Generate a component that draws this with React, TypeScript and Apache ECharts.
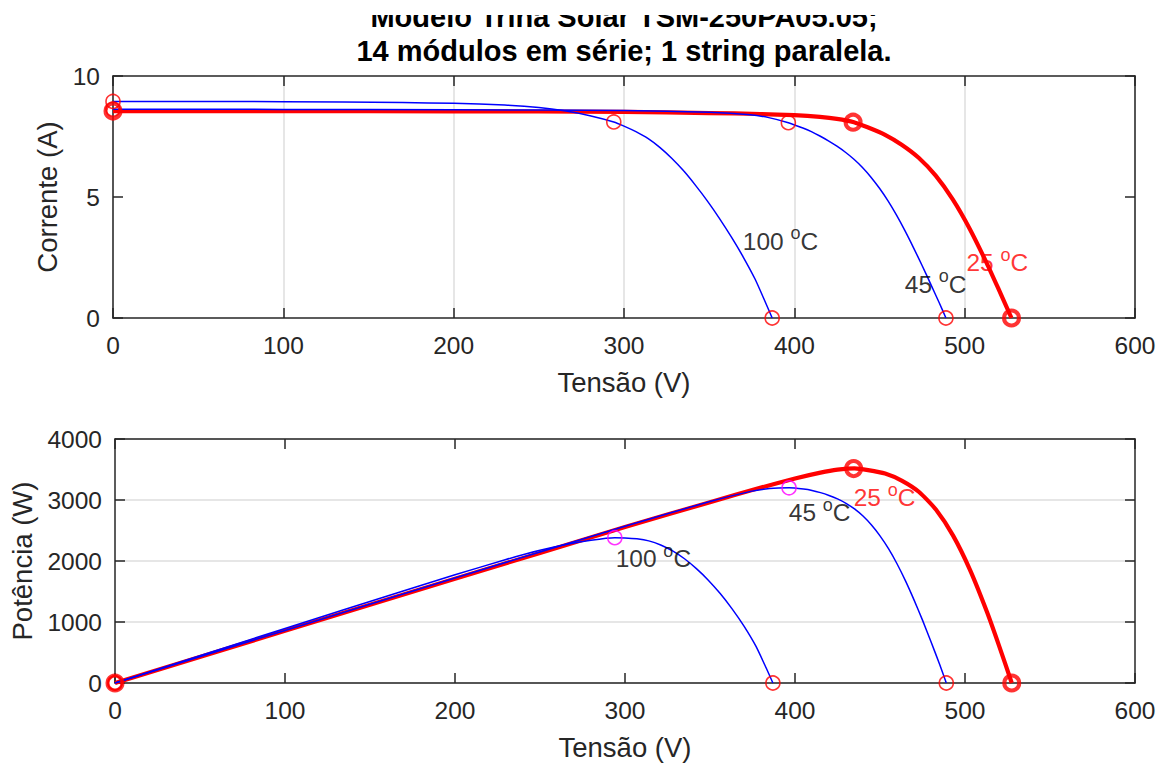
import { useEffect, useRef } from 'react';
import * as echarts from 'echarts';

const titleLines = ['Modelo Trina Solar TSM-250PA05.05;', '14 módulos em série; 1 string paralela.'];
const xLabel = 'Tensão (V)';
const yLabelTop = 'Corrente (A)';
const yLabelBottom = 'Potência (W)';

// 25 oC (red, thick)
const v25 = [0, 100, 200, 300, 350, 380, 400, 415, 425, 435, 443, 453, 463, 473, 483, 493, 503, 513, 520, 527.5];
const i25 = [8.55, 8.55, 8.54, 8.52, 8.47, 8.43, 8.38, 8.31, 8.23, 8.09, 7.88, 7.58, 7.16, 6.62, 5.88, 4.9, 3.68, 2.26, 1.18, 0];
// 45 oC (blue)
const v45 = [0, 100, 200, 300, 350, 374, 385, 396.5, 405, 410, 415, 420, 425, 430, 435, 440, 445, 450, 455, 460, 465, 470, 475, 480, 485, 489];
const i45 = [8.63, 8.62, 8.61, 8.57, 8.5, 8.4, 8.28, 8.07, 7.85, 7.7, 7.52, 7.32, 7.1, 6.85, 6.56, 6.22, 5.82, 5.36, 4.84, 4.25, 3.6, 2.9, 2.17, 1.41, 0.64, 0];
// 100 oC (blue)
const v100 = [0, 100, 170, 200, 230, 250, 266, 280, 294, 300, 307, 314, 321, 328, 335, 342, 349, 356, 363, 370, 377, 383, 387];
const i100 = [8.95, 8.94, 8.9, 8.87, 8.8, 8.7, 8.55, 8.36, 8.1, 7.93, 7.7, 7.42, 7.05, 6.6, 6.08, 5.48, 4.83, 4.12, 3.35, 2.52, 1.6, 0.65, 0];

// special points: [100 oC, 45 oC, 25 oC]
const iscI = [8.95, 8.63, 8.55];
const mppV = [294, 396.5, 434.5];
const mppI = [8.1, 8.07, 8.09];
const vocV = [387, 489, 527.5];

const tempNames = ['100', '45', '25'];
const labelAnchorTop = [[369.7, 3.18], [464.8, 1.4], [501.0, 2.29]];
const labelAnchorBottom = [[294.5, 2033], [396.3, 2787], [434.5, 3033]];

const xTicks = { min: 0, max: 600, interval: 100 };
const yTicksTop = { min: 0, max: 10, interval: 5 };
const yTicksBottom = { min: 0, max: 4000, interval: 1000 };

const FONT = "'Liberation Sans', Arial, Helvetica, sans-serif";
const AX = '#262626';

function pairs(xs: number[], ys: number[]) {
  return xs.map((x, k) => [x, ys[k]]);
}
function power(xs: number[], ys: number[]) {
  return xs.map((x, k) => [x, x * ys[k]]);
}

export default function App() {
  const ref = useRef<HTMLDivElement>(null);
  useEffect(() => {
    if (!ref.current) return;
    const chart = echarts.init(ref.current, null, { renderer: 'svg' });
    const lineStyle = { color: AX, width: 1.5 };
    const fmt = (v: number) => String(v);
    const mkX = (grid: number, pos: 'bottom' | 'top', labels: boolean, split: boolean) => ({
      type: 'value', gridIndex: grid, position: pos, ...xTicks,
      axisLine: { show: true, onZero: false, lineStyle },
      axisTick: { show: true, inside: true, length: 10, lineStyle },
      axisLabel: { show: labels, color: AX, fontSize: 24.5, fontFamily: FONT, margin: 15, formatter: fmt },
      splitLine: { show: split, lineStyle: { color: '#dedede', width: 1.5 } },
      name: labels ? xLabel : '', nameLocation: 'middle', nameGap: 50,
      nameTextStyle: { color: AX, fontSize: 27.5, fontFamily: FONT },
    });
    const mkY = (grid: number, pos: 'left' | 'right', labels: boolean, split: boolean, ticks: any, name: string, gap: number) => ({
      type: 'value', gridIndex: grid, position: pos, ...ticks,
      axisLine: { show: true, onZero: false, lineStyle },
      axisTick: { show: true, inside: true, length: 10, lineStyle },
      axisLabel: { show: labels, color: AX, fontSize: 24.5, fontFamily: FONT, margin: 13, formatter: fmt },
      splitLine: { show: split, lineStyle: { color: '#dedede', width: 1.5 } },
      name: labels ? name : '', nameLocation: 'middle', nameGap: gap,
      nameTextStyle: { color: AX, fontSize: 27.5, fontFamily: FONT },
    });

    const thinCircle = (color: string) => ({ color: 'rgba(0,0,0,0)', borderColor: color, borderWidth: 1.6 });
    const thickCircle = { color: 'rgba(0,0,0,0)', borderColor: '#ff0000', borderWidth: 4 };

    const blues = [
      { v: v100, i: i100 },
      { v: v45, i: i45 },
    ];

    const series: any[] = [];
    for (const g of [0, 1]) {
      const conv = g === 0 ? pairs : power;
      series.push({
        type: 'line', xAxisIndex: g * 2, yAxisIndex: g * 2, data: conv(v25, i25), showSymbol: false,
        smooth: 0.2, lineStyle: { color: '#ff0000', width: 4.2 }, z: 2,
      });
      blues.forEach((c) => series.push({
        type: 'line', xAxisIndex: g * 2, yAxisIndex: g * 2, data: conv(c.v, c.i), showSymbol: false,
        smooth: 0.2, lineStyle: { color: '#0000ff', width: 1.5 }, z: 3,
      }));
    }
    // top markers
    series.push({
      type: 'scatter', xAxisIndex: 0, yAxisIndex: 0, symbol: 'circle', symbolSize: 14, z: 5,
      itemStyle: thinCircle('#ff0000'),
      data: [[0, iscI[0]], [mppV[0], mppI[0]], [vocV[0], 0], [0, iscI[1]], [mppV[1], mppI[1]], [vocV[1], 0]],
    });
    series.push({
      type: 'scatter', xAxisIndex: 0, yAxisIndex: 0, symbol: 'circle', symbolSize: 15, z: 6,
      itemStyle: thickCircle,
      data: [[0, iscI[2]], [mppV[2], mppI[2]], [vocV[2], 0]],
    });
    // bottom markers
    series.push({
      type: 'scatter', xAxisIndex: 2, yAxisIndex: 2, symbol: 'circle', symbolSize: 14, z: 5,
      itemStyle: thinCircle('#ff0000'),
      data: [[0, 0], [vocV[0], 0], [0, 0], [vocV[1], 0]],
    });
    series.push({
      type: 'scatter', xAxisIndex: 2, yAxisIndex: 2, symbol: 'circle', symbolSize: 14, z: 5,
      itemStyle: thinCircle('#ff00ff'),
      data: [[mppV[0], mppV[0] * mppI[0]], [mppV[1], mppV[1] * mppI[1]]],
    });
    series.push({
      type: 'scatter', xAxisIndex: 2, yAxisIndex: 2, symbol: 'circle', symbolSize: 15, z: 6,
      itemStyle: thickCircle,
      data: [[0, 0], [mppV[2], mppV[2] * mppI[2]], [vocV[2], 0]],
    });
    // temperature labels
    const labelSeries = (g: number, anchors: number[][]) => anchors.forEach((a, k) => {
      const col = k === 2 ? '#ff0000' : '#000000';
      series.push({
        type: 'scatter', xAxisIndex: g * 2, yAxisIndex: g * 2, symbolSize: 0.1, z: 10,
        itemStyle: { color: 'rgba(0,0,0,0)' },
        data: [a],
        label: {
          show: true, position: 'right', distance: 0, color: col,
          formatter: `{n|${tempNames[k]} }{s|o}{n|C}`,
          rich: {
            n: { color: col, fontSize: 24.5, fontFamily: FONT },
            s: { color: col, fontSize: 18, fontFamily: FONT, padding: [0, 0, 16, 0] },
          },
        },
      });
    });
    labelSeries(0, labelAnchorTop);
    labelSeries(1, labelAnchorBottom);

    chart.setOption({
      animation: false,
      backgroundColor: '#ffffff',
      grid: [
        { left: 113, right: 28, top: 76, height: 242 },
        { left: 113, right: 28, top: 439, height: 244 },
      ],
      xAxis: [mkX(0, 'bottom', true, true), mkX(0, 'top', false, false), mkX(1, 'bottom', true, false), mkX(1, 'top', false, false)],
      yAxis: [
        mkY(0, 'left', true, false, yTicksTop, yLabelTop, 52),
        mkY(0, 'right', false, false, yTicksTop, '', 0),
        mkY(1, 'left', true, true, yTicksBottom, yLabelBottom, 79),
        mkY(1, 'right', false, false, yTicksBottom, '', 0),
      ],
      series,
      graphic: [
        { type: 'text', x: 624, y: 16.5, z: 50, style: { text: titleLines[0], textAlign: 'center', textVerticalAlign: 'middle', fontSize: 29, fontWeight: 'bold', fontFamily: FONT, fill: '#000' } },
        { type: 'text', x: 624, y: 51, z: 50, style: { text: titleLines[1], textAlign: 'center', textVerticalAlign: 'middle', fontSize: 29, fontWeight: 'bold', fontFamily: FONT, fill: '#000' } },
        { type: 'rect', z: 60, shape: { x: 0, y: 0, width: 1163, height: 15 }, style: { fill: '#ffffff' } },
      ],
    });
    return () => chart.dispose();
  }, []);
  return <div ref={ref} style={{ position: 'fixed', left: 0, top: 0, width: 1163, height: 765 }} />;
}
